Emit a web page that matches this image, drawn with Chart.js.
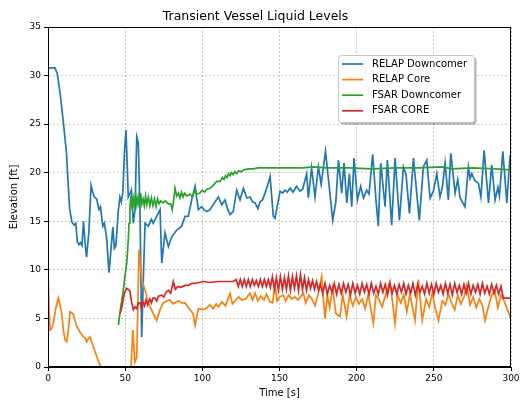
<!DOCTYPE html>
<html>
<head>
<meta charset="utf-8">
<script src="https://cdn.jsdelivr.net/npm/chart.js@4.4.0/dist/chart.umd.min.js"></script>
<style>
  html, body { margin: 0; padding: 0; background: #fff; }
  #wrap { width: 524px; height: 400px; }
</style>
</head>
<body>
<div id="wrap"><canvas id="chart"></canvas></div>
<script>
// [time s, elevation ft]
const relapDowncomer = [
  [0,30.8],[4.5,30.8],[6,30.2],[8,28],[10,25.1],[12,22],[13,19],[14,16.3],[15.5,14.9],[17,14.6],
  [18,14.8],[19,12.9],[20,12.6],[21,12.8],[22,12.5],[23,15],[24,12.8],[25,11.3],[26.5,14],[27.9,18.7],
  [29,18],[30,17.5],[31.5,17.3],[33,16.2],[34,16.5],[35.5,14.5],[36.5,14.8],[38,13.3],[39.5,9.7],[40.5,11.5],
  [41,12.5],[42,14.4],[43,12.2],[44,12.5],[45.5,16],[46.6,17.5],[47.5,17],[48.5,18],[49.5,22],[50.5,24.4],
  [51.3,21],[52,17.5],[53,17.8],[54,18.2],[55.3,14.8],[56.4,16.2],[57.5,23.7],[58.5,23.1],[59.6,16.2],[60.7,3.1],
  [61.8,9.3],[62.9,14.8],[65,14.5],[67,15.2],[68.2,14.8],[70.4,15.5],[72.6,16.2],[73.7,10.7],[75.8,13.8],[78,12.4],
  [80.2,13.4],[83.4,14.1],[86.6,14.5],[88.8,15.5],[90.9,15.5],[93.1,17.2],[95.3,18.6],[97.4,16.2],[99.6,16.5],[101,16.2],
  [103,16.0],[105,16.2],[108.2,17.0],[110.4,17.5],[112.6,16.7],[114.7,17.2],[116.5,16.2],[118,15.7],[120,16.0],[122.3,18.2],
  [124.4,17.2],[126.6,18.4],[128.8,17.4],[130.9,17.5],[132.5,17.0],[134.2,16.9],[136,16.3],[137.4,17.0],[139,17.2],[140.6,17.9],
  [142.5,18.8],[143.9,19.6],[146,15.5],[147.1,15.3],[148.8,16.8],[150.4,18.1],[152,17.9],[153.6,18.2],[155,18.0],[156.8,18.4],
  [158.8,18.0],[161,18.6],[163.3,18.1],[165,18.3],[167.6,19.9],[168.7,17.4],[170.8,20.5],[173,17.5],[175.2,20.6],[177,18.8],
  [179.8,22.2],[182,18.9],[184.5,15.1],[186.5,17.0],[188.2,21.3],[190.3,17.9],[191.8,21.0],[193.6,16.9],[195.3,19.9],[196.8,16.5],
  [198.3,21.5],[200.5,17.2],[202.6,18.6],[204.4,17.4],[206.5,18.2],[208,17.8],[210.4,21.9],[212.5,17.2],[214,14.5],[215.6,21.0],
  [218.4,16.5],[219.9,21.3],[222.7,14.6],[224.9,21.5],[227.7,15.1],[230.3,20.6],[232,19.8],[234.2,15.8],[236.8,21.5],[240.6,15.1],
  [243.2,20.6],[245.4,21.3],[247.6,17.4],[249.7,18.1],[251.9,19.9],[254,17.5],[255.5,18.5],[257.3,21.0],[259.4,17.2],[261,22.0],
  [263.8,17.9],[265.5,19.3],[267,17.4],[270.2,16.5],[272.4,20.6],[273.5,19.4],[274.6,19.9],[276.5,19.2],[278.9,18.9],[280.5,17.5],
  [282.6,22.3],[285.4,16.9],[287.5,20.8],[289.7,17.2],[291.5,18.5],[292.5,17.6],[294.7,22.2],[297.3,16.9],[299.4,21.8],[300,20.0]
];

const relapCore = [
  [0,9.8],[0.7,6],[1.3,3.8],[2.5,4],[3.5,4.5],[5,6],[6.7,7.1],[7.8,6.4],[8.9,5.5],[10,3.8],
  [11,2.8],[12.1,2.6],[13,3.5],[14.3,5.7],[15.3,5.6],[16.4,5.4],[17.5,4.8],[18.6,4.2],[20.7,3.6],[22.9,3.1],
  [24,3.0],[25.1,2.6],[26,2.9],[27.2,3.1],[28.5,2.5],[29.4,2.1],[31.5,1.1],[33.7,0.2],[34.8,0],[53.8,0],
  [55,3.8],[56.3,0.5],[57.5,1.0],[59,12.1],[60.7,9.0],[62.9,7.9],[65,6.6],[68.2,5.5],[70.4,4.8],[72.6,5.9],
  [74.7,6.6],[77,6.8],[79,6.9],[81,6.5],[84.5,6.8],[86.6,6.6],[88.8,6.6],[92,5.9],[94,5.5],[95.3,4.3],
  [97.4,6.0],[100.7,5.9],[103,6.1],[105,6.4],[107,6.0],[109,6.5],[110.5,6.2],[112.6,6.7],[115,6.3],[118,7.6],
  [119.5,6.5],[121,6.8],[123.5,7.2],[125.5,6.9],[128,7.0],[130.9,7.6],[132.5,6.9],[134.2,7.6],[136,6.8],[138,7.3],
  [140,6.9],[141.5,7.5],[143.9,6.7],[145.5,6.6],[147.1,8.4],[148.5,6.8],[150,7.2],[152.5,7.4],[154,6.8],[156,7.4],
  [158,7.0],[160,7.2],[162,6.9],[165.5,7.6],[167,6.6],[169,7.4],[171,7.0],[173,6.3],[175,7.5],[177.3,9.3],
  [179.5,5.0],[181,7.4],[182.5,6.1],[184.5,8.2],[186.5,5.5],[189.2,5.2],[191,7.4],[193.5,5.2],[195.5,7.4],[197.5,6.3],
  [199.5,7.2],[201.5,6.5],[203.5,7.0],[205.5,6.0],[207.5,7.5],[210.8,4.5],[212.5,7.4],[214.5,6.9],[216.5,6.2],[218.5,7.3],
  [221.6,8.8],[224.9,4.5],[226.5,7.4],[228.5,6.6],[230.5,7.4],[232.5,5.7],[234.5,7.5],[237.8,4.8],[240,9.0],[242.5,4.8],
  [245,7.0],[247,6.2],[249,7.6],[251,6.0],[253,4.8],[255.5,6.8],[257.5,6.4],[259.5,7.5],[261.5,6.6],[263.5,5.9],
  [265.5,7.4],[267.5,6.5],[269.5,7.2],[271.3,8.4],[273.5,6.4],[275.5,7.2],[277.5,6.1],[279.5,7.0],[281.5,6.3],[283.2,4.8],
  [285.5,6.3],[287.5,7.4],[289.5,7.8],[291.5,6.1],[293.5,7.4],[295.5,6.8],[297.5,6.0],[299.4,5.2],[300,4.8]
];

const fsarDowncomer = [
  [45.6,4.3],[47,6],[48.8,7.9],[50,9.5],[51,10.7],[52,13],[52.5,14.8],[53.1,16.5],[53.8,17.6],[54.5,16.2],
  [55.2,17.4],[56,16.5],[56.8,17.8],[57.6,16.7],[58.4,17.5],[59.2,16.4],[60,17.9],[60.8,16.8],[61.6,17.3],[62.4,16.6],
  [63.2,17.6],[64,16.7],[65,17.5],[66,16.6],[67,17.4],[68,16.6],[69,17.3],[70,16.5],[71,17.3],[72,16.8],
  [73,17.1],[74.5,16.9],[76,17.1],[78,16.8],[79.5,16.8],[80.5,16.2],[81.3,17.0],[82.3,18.4],[83.4,17.6],[84.5,17.9],
  [85.5,17.4],[86.5,18.0],[87.5,17.5],[88.5,17.9],[90,17.6],[92,17.8],[93.5,17.5],[95.3,18.2],[96.5,17.8],[98.5,17.9],
  [100,18.2],[101.5,18.0],[103,18.3],[105,18.4],[107,18.7],[109.3,19.1],[111.5,19.1],[113,19.5],[114,19.3],[115,19.7],
  [116,19.5],[117,19.9],[118,19.7],[119,20.0],[120,19.8],[121,20.1],[122.3,19.9],[123.5,20.2],[125,20.1],[127,20.3],
  [130,20.4],[133,20.4],[136,20.5],[150,20.5],[165,20.5],[172,20.6],[180,20.5],[195,20.5],[210,20.4],[225,20.5],
  [240,20.5],[255,20.6],[262,20.4],[275,20.5],[290,20.4],[300,20.3]
];

const fsarCore = [
  [46.7,5.5],[48,6.3],[49.5,7.6],[51,8.1],[52,8.0],[53.1,7.8],[54,6.8],[55.3,5.9],[56.4,6.2],[57.5,6.0],
  [58.5,6.6],[59.6,6.6],[60.5,6.1],[61.5,6.7],[62.5,6.3],[63.5,6.9],[64.5,6.4],[66,7.0],[67,6.6],[68,7.1],
  [69.3,7.1],[70.5,6.8],[71.5,7.3],[73.7,7.4],[75,7.2],[76.5,7.7],[78,7.9],[79.5,7.6],[81.2,8.8],[82.5,8.0],
  [84,8.3],[86,8.2],[88.8,8.4],[91,8.4],[93,8.6],[95.3,8.6],[98,8.7],[100.7,8.8],[105,8.7],[110,8.8],
  [115,8.8],[120,8.8],[122,9.0],[123.3,8.3],[124.6,9.0],[125.9,8.3],[127.2,9.0],[128.5,8.3],[129.8,9.0],[131.1,8.3],
  [132.4,9.0],[133.7,8.4],[135,8.9],[136.3,8.3],[137.6,9.0],[138.9,8.3],[140.2,9.0],[141.5,8.3],[142.8,9.0],[144.1,8.2],
  [145.4,9.3],[146.7,8.0],[148,9.2],[149.3,7.9],[150.6,9.3],[151.9,8.0],[153.2,9.2],[154.5,8.0],[155.8,9.4],[157.1,7.9],
  [158.4,9.3],[159.7,8.1],[161,9.4],[162.3,7.9],[163.6,9.5],[164.9,8.0],[166.2,9.2],[167.5,7.9],[168.8,9.0],[170.1,8.1],
  [171.4,8.9],[172.7,8.0],[174,8.8],[175.3,7.9],[176.5,8.5],[178,7.6],[179.5,8.6],[181,7.5],[182.5,8.4],[184,7.7],
  [185.5,8.6],[187,7.5],[188.5,8.5],[190,7.6],[191.5,8.6],[193,7.7],[194.5,8.5],[196,7.4],[197.5,8.6],[199,7.6],
  [200.5,8.4],[202,7.5],[203.5,8.6],[205,7.7],[206.5,8.5],[208,7.5],[209.5,8.6],[211,7.6],[212.5,8.3],[214,7.5],
  [215.5,8.6],[217,7.7],[218.5,8.5],[220,7.4],[221.5,8.6],[223,7.6],[224.5,8.4],[226,7.5],[227.5,8.5],[229,7.7],
  [230.5,8.6],[232,7.5],[233.5,8.4],[235,7.6],[236.5,8.6],[238,7.4],[239.5,8.5],[241,7.7],[242.5,8.3],[244,7.5],
  [245.5,8.6],[247,7.6],[248.5,8.5],[250,7.5],[251.5,8.6],[253,7.7],[254.5,8.4],[256,7.5],[257.5,8.6],[259,7.6],
  [260.5,8.5],[262,7.4],[263.5,8.6],[265,7.7],[266.5,8.4],[268,7.5],[269.5,8.5],[271,7.6],[272.5,8.6],[274,7.5],
  [275.5,8.4],[277,7.7],[278.5,8.5],[280,7.5],[281.5,8.6],[283,7.6],[284.5,8.3],[286,7.5],[287.5,8.5],[289,7.6],
  [290.5,8.4],[292,7.5],[293.5,8.3],[295,7.1],[300,7.1]
];

const seriesNames = ["RELAP Downcomer", "RELAP Core", "FSAR Downcomer", "FSAR CORE"];
const seriesColors = ["#1f77b4", "#ff7f0e", "#2ca02c", "#d62728"];
const seriesData = [relapDowncomer, relapCore, fsarDowncomer, fsarCore];

const xTicks = [0, 300, 50];   // min, max, step
const yTicks = [0, 35, 5];

Chart.defaults.font.family = "'DejaVu Sans', sans-serif";
Chart.defaults.color = "#000";

const gridColor = "rgba(0,0,0,0.22)";

// black box round the plot, like matplotlib spines
const frame = {
  id: "frame",
  afterDatasetsDraw(chart) {
    const { ctx, chartArea: a } = chart;
    ctx.save();
    ctx.strokeStyle = "#000";
    ctx.lineWidth = 1;
    ctx.strokeRect(Math.round(a.left) + 0.5, Math.round(a.top) + 0.5,
      Math.round(a.right - a.left) - 1, Math.round(a.bottom - a.top) - 1);
    ctx.restore();
  }
};

// legend inside the axes with a drop shadow
const boxLegend = {
  id: "boxLegend",
  afterDraw(chart) {
    const { ctx, chartArea: a } = chart;
    const x = a.right - 173, y = a.top + 28, w = 136, h = 67;
    const rr = (px, py) => {
      ctx.beginPath();
      ctx.roundRect(px, py, w, h, 3);
    };
    ctx.save();
    ctx.fillStyle = "rgba(0,0,0,0.3)";
    rr(x + 2.5, y + 2.5);
    ctx.fill();
    ctx.fillStyle = "#fff";
    ctx.strokeStyle = "#c8c8c8";
    ctx.lineWidth = 1;
    rr(x + 0.5, y + 0.5);
    ctx.fill();
    ctx.stroke();
    ctx.font = "10px 'DejaVu Sans'";
    ctx.textBaseline = "middle";
    chart.data.datasets.forEach((ds, i) => {
      const ly = y + 9 + i * 15.6;
      ctx.strokeStyle = ds.borderColor;
      ctx.lineWidth = 1.7;
      ctx.beginPath();
      ctx.moveTo(x + 4, ly);
      ctx.lineTo(x + 25, ly);
      ctx.stroke();
      ctx.fillStyle = "#000";
      ctx.fillText(ds.label, x + 34, ly);
    });
    ctx.restore();
  }
};

const datasets = seriesData.map((pts, i) => ({
  label: seriesNames[i],
  data: pts.map(([t, v]) => ({ x: t, y: v })),
  borderColor: seriesColors[i],
  backgroundColor: seriesColors[i],
  borderWidth: 1.7,
  pointRadius: 0,
  tension: 0,
  order: seriesData.length - i,
}));

new Chart(document.getElementById("chart"), {
  type: "line",
  data: { datasets },
  options: {
    responsive: true,
    maintainAspectRatio: false,
    animation: false,
    layout: { padding: { left: 0, right: 13, top: 0, bottom: 0 } },
    plugins: {
      legend: { display: false },
      tooltip: { enabled: false },
      title: {
        display: true,
        text: "Transient Vessel Liquid Levels",
        font: { size: 12.5, weight: "normal" },
        color: "#000",
        padding: { top: 9, bottom: 3 },
      },
    },
    scales: {
      x: {
        type: "linear",
        min: xTicks[0],
        max: xTicks[1],
        ticks: { stepSize: xTicks[2], font: { size: 9 }, color: "#000", padding: 2, maxRotation: 0 },
        grid: { color: gridColor, tickColor: "#000", tickLength: 4 },
        border: { color: "#000", dash: [2, 2] },
        title: { display: true, text: "Time [s]", font: { size: 10 }, padding: { top: 0, bottom: 1 } },
        afterFit(scale) { scale.height = 33; },
      },
      y: {
        min: yTicks[0],
        max: yTicks[1],
        ticks: { stepSize: yTicks[2], font: { size: 9 }, color: "#000", padding: 3 },
        grid: { color: gridColor, tickColor: "#000", tickLength: 4 },
        border: { color: "#000", dash: [2, 2] },
        title: { display: true, text: "Elevation [ft]", font: { size: 10 }, padding: { top: 8, bottom: 0 } },
        afterFit(scale) { scale.width = 48; },
      },
    },
  },
  plugins: [frame, boxLegend],
});
</script>
</body>
</html>
